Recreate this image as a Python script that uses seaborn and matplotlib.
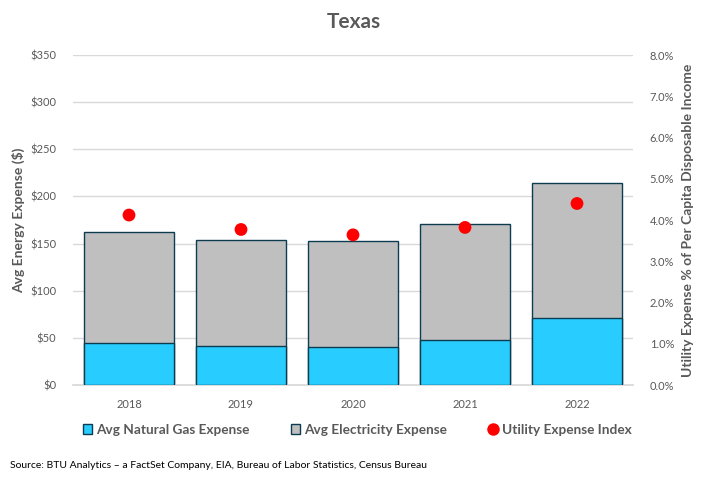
import matplotlib
matplotlib.use("Agg")
import matplotlib.pyplot as plt
import seaborn as sns
import pandas as pd
from matplotlib.lines import Line2D
from matplotlib.patches import Patch
from matplotlib.ticker import FuncFormatter

# =====================
# DATA
# =====================
years = ["2018", "2019", "2020", "2021", "2022"]
gas_expense = [44.7, 41.5, 40.4, 47.9, 71.0]
elec_expense = [118.1, 112.4, 112.4, 123.1, 143.6]
utility_index = [4.12, 3.77, 3.64, 3.82, 4.40]

df = pd.DataFrame({"year": years, "gas": gas_expense, "elec": elec_expense,
                   "index": utility_index})
df["total"] = df["gas"] + df["elec"]

GAS = "#29CCFF"
ELEC = "#BFBFBF"
EDGE = "#0D3B4F"
TXT = "#595959"
GRID = "#D9D9D9"

sns.set_theme(style="white")
plt.rcParams["font.family"] = ["Lato", "DejaVu Sans"]

fig = plt.figure(figsize=(7.07, 4.78), dpi=100)
ax = fig.add_axes([73 / 707, 1 - 385 / 478, 560 / 707, 330 / 478])

# stacked bars: total (electricity colour) first, gas on top of it
sns.barplot(data=df, x="year", y="total", color=ELEC, width=0.8, ax=ax,
            edgecolor=EDGE, linewidth=1.0, saturation=1, zorder=2)
sns.barplot(data=df, x="year", y="gas", color=GAS, width=0.8, ax=ax,
            edgecolor=EDGE, linewidth=1.0, saturation=1, zorder=3)

ax.set_xlim(-0.5, 4.5)
ax.set_ylim(0, 350)
ax.set_yticks(range(0, 351, 50))
ax.yaxis.set_major_formatter(FuncFormatter(lambda v, p: f"${v:.0f}"))
ax.grid(axis="y", color=GRID, linewidth=1, zorder=0)
ax.set_axisbelow(True)
for s in ["top", "right", "left"]:
    ax.spines[s].set_visible(False)
ax.spines["bottom"].set_color(GRID)
ax.tick_params(axis="both", length=0, labelsize=8, labelcolor=TXT)
ax.tick_params(axis="x", pad=10)
ax.tick_params(axis="y", pad=12)
ax.set_xlabel("")
ax.set_ylabel("Avg Energy Expense ($)", fontsize=10, fontweight="bold",
              color=TXT, labelpad=4)

# secondary axis for index
ax2 = ax.twinx()
sns.scatterplot(data=df, x="year", y="index", color="#FF0000", s=85,
                edgecolor="none", ax=ax2, zorder=5, legend=False)
ax2.set_ylim(0, 8)
ax2.set_yticks(range(0, 9))
ax2.yaxis.set_major_formatter(FuncFormatter(lambda v, p: f"{v:.1f}%"))
for s in ax2.spines.values():
    s.set_visible(False)
ax2.tick_params(axis="y", length=0, labelsize=8, labelcolor=TXT, pad=12)
ax2.set_ylabel("Utility Expense % of Per Capita Disposable Income",
               fontsize=10, fontweight="bold", color=TXT, labelpad=6)
ax2.grid(False)

fig.suptitle("Texas", x=0.5, y=0.975, fontsize=15, fontweight="bold", color=TXT)

handles = [
    Patch(facecolor=GAS, edgecolor=EDGE, label="Avg Natural Gas Expense"),
    Patch(facecolor=ELEC, edgecolor=EDGE, label="Avg Electricity Expense"),
    Line2D([], [], marker="o", color="none", markerfacecolor="#FF0000",
           markeredgecolor="none", markersize=9, label="Utility Expense Index"),
]
leg = fig.legend(handles=handles, loc="center", bbox_to_anchor=(0.505, 1 - 430 / 478),
                 ncol=3, frameon=False, handlelength=0.7, handleheight=0.7,
                 handletextpad=0.3, columnspacing=3.0,
                 prop={"size": 9.8, "weight": "bold"})
for t in leg.get_texts():
    t.set_color(TXT)

fig.text(10 / 707, 1 - 465 / 478,
         "Source: BTU Analytics \u2013 a FactSet Company, EIA, Bureau of Labor Statistics, Census Bureau",
         fontsize=7.5, color="black", va="center", ha="left")

fig.savefig("out.png", dpi=100)
